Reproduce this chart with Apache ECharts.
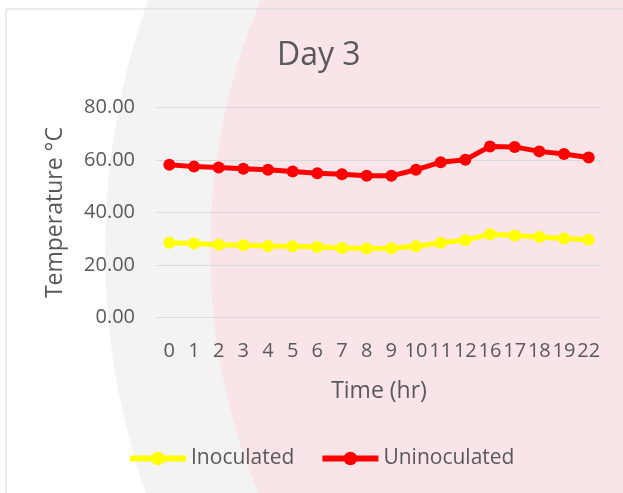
<!DOCTYPE html>
<html>
<head>
<meta charset="utf-8">
<script src="https://cdn.jsdelivr.net/npm/echarts@6/dist/echarts.min.js"></script>
<style>
  html, body { margin: 0; padding: 0; background: #fff; }
  #chart { width: 623px; height: 493px; }
</style>
</head>
<body>
<div id="chart"></div>
<script>
// time points (hr) as shown on the category axis
const hours = ['0', '1', '2', '3', '4', '5', '6', '7', '8', '9', '10', '11', '12', '16', '17', '18', '19', '22']
// temperature readings
const inoculated = [28.5, 28.2, 27.8, 27.6, 27.3, 27.2, 26.9, 26.5, 26.3, 26.4, 27.2, 28.5, 29.5, 31.8, 31.3, 30.7, 30.1, 29.7]
const uninoculated = [58.2, 57.5, 57.2, 56.7, 56.3, 55.6, 55.0, 54.6, 54.0, 54.0, 56.3, 59.2, 60.1, 65.2, 65.0, 63.3, 62.3, 61.0]

const font = '"Open Sans", "Noto Sans", sans-serif'
const textColor = '#595959'

const chart = echarts.init(document.getElementById('chart'))

const options = {
  backgroundColor: '#fff',
  animation: false,
  textStyle: { fontFamily: font },
  graphic: [
    // faint watermark behind the chart (rough)
    {
      type: 'circle',
      z: -10,
      shape: { cx: 850, cy: 250, r: 745 },
      style: { fill: '#f3f3f3' }
    },
    {
      type: 'circle',
      z: -9,
      shape: { cx: 850, cy: 250, r: 640 },
      style: { fill: '#f9e4e7' }
    },
    {
      type: 'rect',
      shape: { x: 6, y: 9, width: 640, height: 500 },
      style: { fill: 'none', stroke: '#d9d9d9', lineWidth: 1 }
    }
  ],
  title: {
    text: 'Day 3',
    left: 272,
    top: 35,
    textStyle: { color: textColor, fontSize: 32, fontWeight: 'normal', fontFamily: font }
  },
  grid: {
    left: 157,
    right: 22,
    top: 107.5,
    bottom: 175.3,
    containLabel: false
  },
  legend: {
    data: ['Inoculated', 'Uninoculated'],
    left: 122,
    top: 443,
    itemWidth: 56,
    itemHeight: 17,
    itemGap: 25,
    lineStyle: { width: 6 },
    textStyle: { color: textColor, fontSize: 21, fontFamily: font }
  },
  xAxis: {
    type: 'category',
    data: hours,
    boundaryGap: true,
    name: 'Time (hr)',
    nameLocation: 'middle',
    nameGap: 62,
    nameTextStyle: { color: textColor, fontSize: 23, fontFamily: font },
    axisLine: { show: false },
    axisTick: { show: false },
    axisLabel: {
      interval: 0,
      margin: 24,
      color: textColor,
      fontSize: 20,
      fontFamily: font
    }
  },
  yAxis: {
    type: 'value',
    min: 0,
    max: 80,
    interval: 20,
    name: 'Temperature °C',
    nameLocation: 'middle',
    nameGap: 90,
    nameTextStyle: { color: textColor, fontSize: 23, fontFamily: font },
    axisLine: { show: false },
    axisTick: { show: false },
    splitLine: { show: true, lineStyle: { color: '#d9d9d9', width: 1 } },
    axisLabel: {
      margin: 22,
      color: textColor,
      fontSize: 20,
      fontFamily: font,
      formatter: (v) => v.toFixed(2)
    }
  },
  series: [
    {
      name: 'Inoculated',
      type: 'line',
      data: inoculated,
      symbol: 'circle',
      symbolSize: 12,
      lineStyle: { color: '#ffff00', width: 5 },
      itemStyle: { color: '#ffff00' }
    },
    {
      name: 'Uninoculated',
      type: 'line',
      data: uninoculated,
      symbol: 'circle',
      symbolSize: 12,
      lineStyle: { color: '#ff0000', width: 5 },
      itemStyle: { color: '#ff0000' }
    }
  ]
}

chart.setOption(options, true)
</script>
</body>
</html>
